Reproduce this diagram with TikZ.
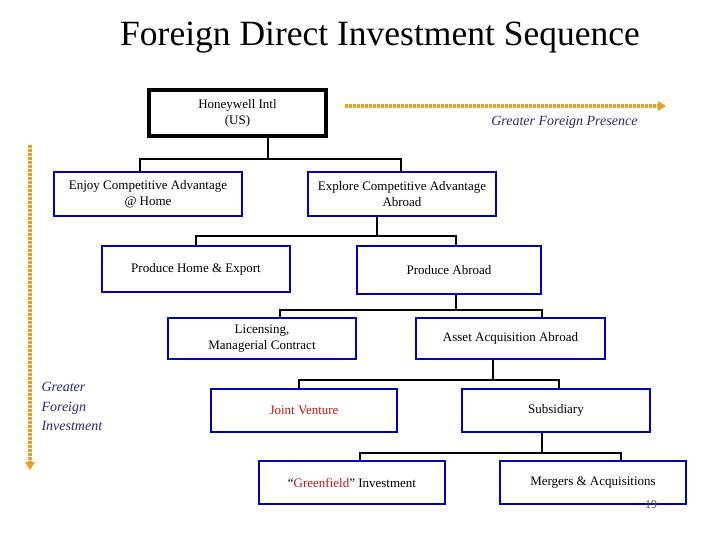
\documentclass[tikz,border=0pt]{standalone}
\usepackage{fontspec}
\setmainfont{Liberation Serif}
\begin{document}
\begin{tikzpicture}[x=1pt,y=-1pt,
  bx/.style={draw=blue!75!black,line width=2.4pt,align=center,font=\fontsize{13}{16}\selectfont},
  conn/.style={line width=2.4pt},
  ora/.style={draw={rgb,255:red,232;green,160;blue,40},line width=4pt,dash pattern=on 2.6pt off 1.4pt},
  note/.style={text={rgb,255:red,40;green,40;blue,130},font=\itshape\fontsize{14}{19.5}\selectfont}]
\useasboundingbox (0,0) rectangle (720,540);
\definecolor{ired}{RGB}{200,20,20}
\definecolor{oarr}{RGB}{232,160,40}
\node (title) at (380,38) {\fontsize{35.5}{38}\selectfont Foreign Direct Investment Sequence};
\node[draw,line width=3.2pt,minimum width=177pt,minimum height=46pt,align=center,font=\fontsize{13}{16}\selectfont] (hw) at (237.5,113) {Honeywell Intl\\(US)};
\node[bx,minimum width=188pt,minimum height=44pt] (enj) at (148,194) {Enjoy Competitive Advantage\\@ Home};
\node[bx,minimum width=188pt,minimum height=44pt] (exp) at (402,194) {Explore Competitive Advantage\\Abroad};
\node[bx,minimum width=188pt,minimum height=46pt] (phe) at (196,269) {Produce Home \& Export};
\node[bx,minimum width=184pt,minimum height=48pt] (pa) at (449,270) {Produce Abroad};
\node[bx,minimum width=188pt,minimum height=41pt] (lic) at (262,338.5) {Licensing,\\Managerial Contract};
\node[bx,minimum width=189pt,minimum height=41pt] (aaa) at (510.5,338.5) {Asset Acquisition Abroad};
\node[bx,minimum width=186pt,minimum height=43pt,text=ired] (jv) at (304,410.5) {Joint Venture};
\node[bx,minimum width=188pt,minimum height=43pt] (sub) at (556,410.5) {Subsidiary};
\node[bx,minimum width=186pt,minimum height=43pt] (gf) at (352,482.5) {``\textcolor{ired}{Greenfield}'' Investment};
\node[bx,minimum width=186pt,minimum height=43pt] (ma) at (593,482.5) {Mergers \& Acquisitions};
\node[font=\fontsize{12}{14}\selectfont,text=black!70] (pg) at (651,505) {19};
% connectors
\coordinate (b1l) at (140,159); \coordinate (b1r) at (401,159);
\draw[conn] (hw.south -| 268,0) -- (268,159);
\draw[conn] (enj.north -| b1l) -- (b1l) -- (b1r) -- (exp.north -| b1r);
\coordinate (b2l) at (196,236); \coordinate (b2r) at (456,236);
\draw[conn] (exp.south -| 377,0) -- (377,236);
\draw[conn] (phe.north -| b2l) -- (b2l) -- (b2r) -- (pa.north -| b2r);
\coordinate (b3l) at (280,310); \coordinate (b3r) at (542,310);
\draw[conn] (pa.south -| 456,0) -- (456,310);
\draw[conn] (lic.north -| b3l) -- (b3l) -- (b3r) -- (aaa.north -| b3r);
\coordinate (b4l) at (299,380); \coordinate (b4r) at (559,380);
\draw[conn] (aaa.south -| 493,0) -- (493,380);
\draw[conn] (jv.north -| b4l) -- (b4l) -- (b4r) -- (sub.north -| b4r);
\coordinate (b5l) at (360,453); \coordinate (b5r) at (621,453);
\draw[conn] (sub.south -| 542,0) -- (542,453);
\draw[conn] (gf.north -| b5l) -- (b5l) -- (b5r) -- (ma.north -| b5r);
% orange arrows
\coordinate (hs) at (345,106); \coordinate (he) at (658,106);
\draw[ora] (hs) -- (he);
\fill[oarr] (658,101) -- (666,106) -- (658,111) -- cycle;
\coordinate (vs) at (30,145); \coordinate (ve) at (30,462);
\draw[ora] (vs) -- (ve);
\fill[oarr] (25,462) -- (30,470) -- (35,462) -- cycle;
\node[note,anchor=east] (gfp) at (641,122) {Greater Foreign Presence};
\node[note,anchor=north west,align=left] (gfi) at (38,379) {Greater\\Foreign\\Investment};
\end{tikzpicture}
\end{document}
